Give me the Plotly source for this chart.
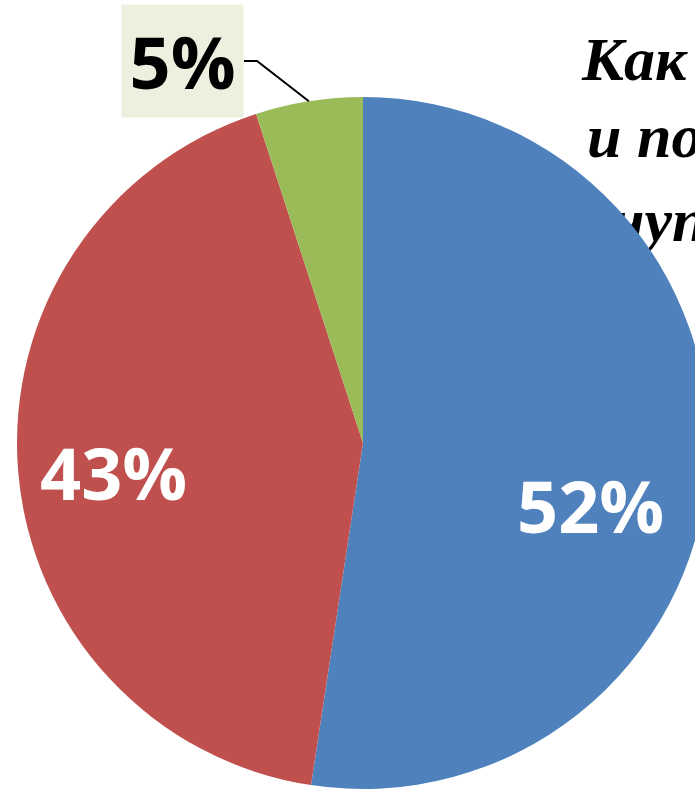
import math
import plotly.graph_objects as go

# ---- data ----
labels = ["Вариант 1", "Вариант 2", "Вариант 3"]
values = [52.4, 42.6, 5.0]
colors = ["#4F81BD", "#C0504D", "#9BBB59"]
title_lines = ["Как", "и по", "чуп"]

# ---- geometry of the page ----
W, H = 730, 791
cx, cy, r = 363, 443, 346

fig = go.Figure()

# title fragments (drawn below the pie)
fig.add_trace(go.Scatter(
    x=[582, 587, 612], y=[64, 141, 225],
    mode="text", text=title_lines, textposition="middle right",
    textfont=dict(family="Liberation Serif", size=62, color="black",
                  weight="bold", style="italic"),
    hoverinfo="skip", showlegend=False, cliponaxis=False,
))

fig.add_trace(go.Pie(
    labels=labels, values=values, sort=False, direction="clockwise", rotation=0,
    marker=dict(colors=colors, line=dict(width=0)),
    textinfo="none",
    domain=dict(x=[(cx - r) / W, (cx + r) / W], y=[(H - cy - r) / H, (H - cy + r) / H]),
    showlegend=False, hoverinfo="label+percent",
))

total = sum(values)
pct = [f"{v / total:.0%}" for v in values]

# inside labels for the two large slices
label_pos = [(590, 505), (113, 472)]
for (lx, ly), t in zip(label_pos, pct[:2]):
    fig.add_annotation(
        xref="x", yref="y", x=lx, y=ly, showarrow=False, text=t,
        font=dict(family="Open Sans", size=72, color="white", weight="bold"),
    )

# label for the small slice, with leader line to the slice's mid angle
start = sum(values[:2]) / total
mid = (start + values[2] / total / 2) * 2 * math.pi
px = cx + r * math.sin(mid)
py = cy - r * math.cos(mid)
bx0, bx1, by0, by1 = 122, 243, 5, 117
byc = (by0 + by1) / 2
fig.add_shape(type="path", xref="x", yref="y",
              path=f"M {bx1 + 1} {byc} L {bx1 + 14} {byc} L {px} {py}",
              line=dict(color="black", width=2))
fig.add_annotation(
    xref="x", yref="y", x=(bx0 + bx1) / 2, y=byc, showarrow=False,
    text=pct[2], width=bx1 - bx0, height=by1 - by0, borderpad=0,
    bgcolor="#EBF1DE",
    font=dict(family="Open Sans", size=72, color="black", weight="bold"),
)

fig.update_layout(
    width=W, height=H, margin=dict(l=0, r=0, t=0, b=0),
    paper_bgcolor="white", plot_bgcolor="white",
    xaxis=dict(range=[0, W], visible=False, fixedrange=True),
    yaxis=dict(range=[H, 0], visible=False, fixedrange=True),
)

fig.write_html(
    "out.html",
    config={"displayModeBar": False},
    post_script="document.body.style.margin='0';document.body.style.overflow='hidden';"
                "document.documentElement.style.overflow='hidden';",
)
